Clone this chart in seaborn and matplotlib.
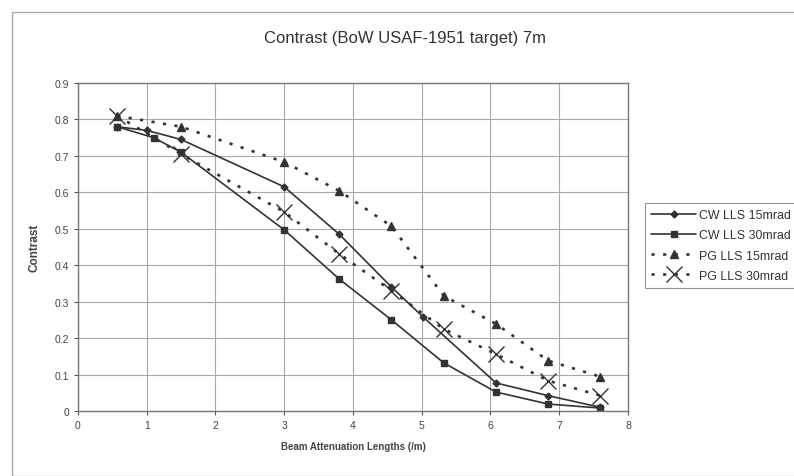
import matplotlib
matplotlib.use("Agg")
import matplotlib.pyplot as plt
import seaborn as sns
import pandas as pd
from matplotlib.patches import Rectangle

cw15_x = [0.57, 1.0, 1.5, 3.0, 3.8, 4.56, 5.02, 6.08, 6.84, 7.6]
cw15_y = [0.78, 0.77, 0.745, 0.615, 0.485, 0.34, 0.258, 0.077, 0.042, 0.01]
cw30_x = [0.57, 1.1, 1.5, 3.0, 3.8, 4.56, 5.32, 6.08, 6.84, 7.6]
cw30_y = [0.78, 0.75, 0.71, 0.497, 0.362, 0.25, 0.132, 0.052, 0.019, 0.008]
pg_x = [0.57, 1.5, 3.0, 3.8, 4.56, 5.32, 6.08, 6.84, 7.6]
pg15_y = [0.81, 0.78, 0.683, 0.604, 0.507, 0.316, 0.239, 0.138, 0.094]
pg30_y = [0.81, 0.705, 0.546, 0.431, 0.33, 0.225, 0.156, 0.083, 0.042]

labels = ["CW LLS 15mrad", "CW LLS 30mrad", "PG LLS 15mrad", "PG LLS 30mrad"]
title = "Contrast (BoW USAF-1951 target) 7m"
xlabel = "Beam Attenuation Lengths (/m)"
ylabel = "Contrast"

sns.set_style("white")
plt.rcParams['font.family'] = ['Liberation Sans', 'DejaVu Sans']

fig = plt.figure(figsize=(7.94, 4.77), dpi=100)
ax = fig.add_axes([0.0982, 0.1363, 0.6927, 0.6876])

col = "#333333"
series = [
    (cw15_x, cw15_y, labels[0], "-", "D", 3.5, 1.2),
    (cw30_x, cw30_y, labels[1], "-", "s", 4.5, 1.2),
    (pg_x, pg15_y, labels[2], (0, (1.2, 3.2)), "^", 6, 1.9),
    (pg_x, pg30_y, labels[3], (0, (1.2, 3.2)), "x", 11, 1.9),
]
for xs, ys, lab, ls, mk, ms, lw in series:
    df = pd.DataFrame({"x": xs, "y": ys})
    sns.lineplot(data=df, x="x", y="y", ax=ax, color=col, linestyle=ls,
                 linewidth=lw, marker=mk, markersize=ms, markeredgecolor=col,
                 markerfacecolor=col, markeredgewidth=1.0, label=lab,
                 legend=False, sort=False, errorbar=None)

ax.set_xlim(0, 8)
ax.set_ylim(0, 0.9)
ax.set_xticks(range(0, 9))
ax.set_yticks([i / 10 for i in range(10)])
ax.set_yticklabels(["0"] + [f"0.{i}" for i in range(1, 10)])
ax.grid(True, color="#a8a8a8", linewidth=0.8)
for s in ax.spines.values():
    s.set_color("#777777")
    s.set_linewidth(1.0)
ax.tick_params(axis="both", labelsize=7.5, colors="#555555", length=3,
               direction="out", bottom=True, left=True)
for t in ax.get_xticklabels() + ax.get_yticklabels():
    t.set_color("#444444")
ax.set_xlabel(xlabel, fontsize=7, fontweight="bold", color="#444444", labelpad=8)
ax.set_ylabel(ylabel, fontsize=8.5, fontweight="bold", color="#444444", labelpad=10)

fig.text(0.51, 0.92, title, ha="center", va="center", fontsize=12, color="#333333")

handles, labs = ax.get_legend_handles_labels()
leg = fig.legend(handles, labs, loc="upper left", bbox_to_anchor=(0.804, 0.586),
                 fontsize=8.9, frameon=True, handlelength=3.6, borderpad=0.55,
                 labelspacing=0.65, handletextpad=0.25, fancybox=False)
leg.get_frame().set_edgecolor("#777777")
leg.get_frame().set_linewidth(0.8)
for t in leg.get_texts():
    t.set_color("#333333")

# outer chart border
fig.patches.append(Rectangle((12 / 794, 0.0), 1.2, 1 - 13 / 477,
                             transform=fig.transFigure, fill=False,
                             edgecolor="#aaaaaa", linewidth=1.0))

fig.savefig("out.png", dpi=100)
